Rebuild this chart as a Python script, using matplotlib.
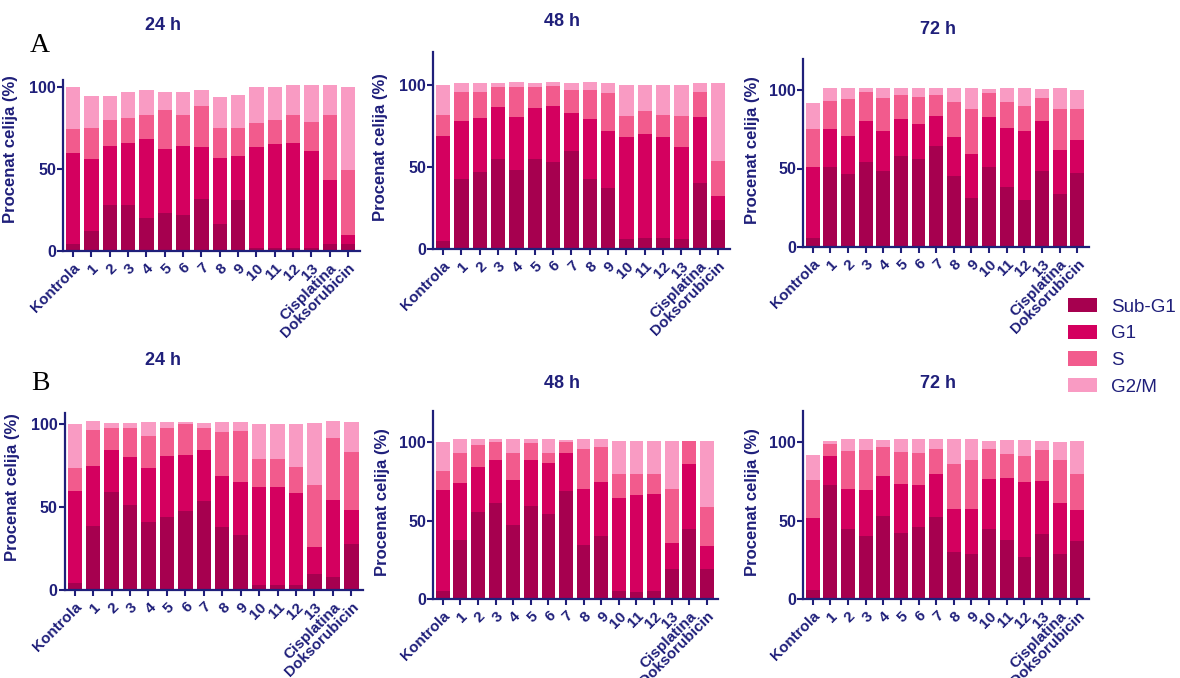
import numpy as np
import matplotlib.pyplot as plt
from matplotlib.patches import Patch

plt.rcParams['font.family'] = ['Liberation Sans', 'DejaVu Sans']

categories = ['Kontrola', '1', '2', '3', '4', '5', '6', '7', '8', '9', '10',
              '11', '12', '13', 'Cisplatina', 'Doksorubicin']
phases = ['Sub-G1', 'G1', 'S', 'G2/M']
colors = ['#a6004f', '#d4005f', '#f25b8d', '#f99bc3']
navy = '#1f1f7a'

# A, 24 h  (% of cells per phase)
a24_subg1 = [4, 12, 28, 28, 20, 23, 22, 31.5, 16.5, 31, 2, 2, 2, 2, 4, 4]
a24_g1 = [55.5, 44, 36, 38, 48, 39, 42, 31.5, 40, 27, 61, 63, 64, 59, 39.5, 6]
a24_s = [14.5, 19, 16, 15, 15, 24, 18.5, 25.5, 18.5, 17, 15, 15, 17, 17.5, 39.5, 39]
a24_g2m = [26, 19.5, 14.5, 16, 15, 11, 14.5, 9.5, 19, 20, 22, 20, 18, 22.5, 18, 51]

# A, 48 h
a48_subg1 = [5, 42.5, 47, 55, 48, 55, 53, 60, 42.5, 37.5, 6, 6.5, 6.5, 6, 40.5, 17.5]
a48_g1 = [64, 35.5, 33, 31.5, 32.5, 31, 34, 23, 36.5, 34.5, 62, 63.5, 61.5, 56, 40, 15]
a48_s = [13, 17.5, 16, 12.5, 18, 12.5, 12.5, 14, 18, 23, 13, 14, 14, 19, 15, 21]
a48_g2m = [18, 6, 5.5, 2.5, 3.5, 3, 2.5, 4.5, 5, 6.5, 19, 16, 18, 19, 6, 47.5]

# A, 72 h
a72_subg1 = [6, 51, 46.5, 54, 48.5, 58, 56, 64.5, 45, 31.5, 51, 38, 30, 48.5, 34, 47]
a72_g1 = [45, 24, 24.5, 26, 25.5, 23.5, 22.5, 19, 25, 27.5, 31.5, 38, 44, 32, 27.5, 21]
a72_s = [24, 18, 23, 18.5, 21, 15, 17, 13, 22.5, 29, 15.5, 16.5, 16, 14.5, 26.5, 20]
a72_g2m = [16.5, 8.5, 7.5, 3, 6.5, 5, 6, 5, 9, 13.5, 2.5, 8.5, 11, 5.5, 13, 12]

# B, 24 h
b24_subg1 = [4.5, 38.5, 59, 51.5, 41, 44, 47.5, 54, 38, 33, 3, 3, 3, 9.5, 8, 28]
b24_g1 = [55, 36.5, 25.5, 29, 32.5, 37, 34, 30.5, 31, 32, 59, 59, 55.5, 16.5, 46.5, 20]
b24_s = [14, 21.5, 13.5, 17.5, 19.5, 17, 18.5, 13.5, 26.5, 31, 17, 17, 16, 37.5, 37.5, 35]
b24_g2m = [26.5, 5.5, 3, 3, 8.5, 3.5, 1.5, 3, 6, 5.5, 21, 21, 25.5, 37, 10, 18.5]

# B, 48 h
b48_subg1 = [5, 37.5, 55.5, 61.5, 47.5, 59.5, 54.5, 69, 34.5, 40, 5, 4.5, 5, 19, 44.5, 19]
b48_g1 = [64.5, 36.5, 29, 27, 28.5, 29, 32.5, 24.5, 36, 34.5, 59.5, 62, 62, 16.5, 41.5, 15]
b48_s = [12.5, 19.5, 14, 11.5, 17.5, 11, 6, 6.5, 25, 22.5, 15.5, 13.5, 13, 34.5, 15, 24.5]
b48_g2m = [18.5, 8.5, 3.5, 2, 8.5, 2.5, 9, 1.5, 6.5, 5, 21, 21, 21, 31, 0, 42.5]

# B, 72 h
b72_subg1 = [5.5, 72.5, 45, 40.5, 53, 42, 46, 52.5, 30, 29, 44.5, 37.5, 27, 41.5, 29, 37]
b72_g1 = [46.5, 18.5, 25.5, 29, 25.5, 31.5, 26.5, 27, 27.5, 28.5, 32, 39.5, 47.5, 34, 32, 20]
b72_s = [24, 8, 24, 25.5, 18.5, 20.5, 21, 16, 28.5, 31, 19, 15.5, 17, 19.5, 28, 23]
b72_g2m = [16, 2, 7.5, 7, 4.5, 8, 8.5, 6.5, 16, 13.5, 5.5, 9, 10, 6, 11, 21]

W, H = 1180, 678
fig = plt.figure(figsize=(W / 100, H / 100), dpi=100)


def px_axes(left, zero_y, width, height):
    return fig.add_axes([left / W, (H - zero_y) / H, width / W, height / H])


def draw_panel(ax, data, ytop):
    x = np.arange(len(categories))
    bottom = np.zeros(len(categories))
    for vals, c in zip(data, colors):
        vals = np.array(vals, dtype=float)
        ax.bar(x, vals, width=0.78, bottom=bottom, color=c, linewidth=0)
        bottom += vals
    ax.set_xlim(-0.55, 15.65)
    ax.set_ylim(0, ytop)
    ax.set_yticks([0, 50, 100])
    ax.set_xticks(x)
    ax.set_xticklabels(categories, rotation=45, ha='right',
                       rotation_mode='anchor', fontsize=11, fontweight='bold',
                       color=navy)
    for lab in ax.get_yticklabels():
        lab.set_fontweight('bold')
    ax.tick_params(axis='y', colors=navy, labelsize=11.5, width=1.5,
                   length=4, pad=1)
    ax.tick_params(axis='x', colors=navy, width=1.5, length=4, pad=3)
    for s in ['top', 'right']:
        ax.spines[s].set_visible(False)
    for s in ['left', 'bottom']:
        ax.spines[s].set_color(navy)
        ax.spines[s].set_linewidth(1.6)
    ax.set_ylabel('Procenat celija (%)', fontsize=12, fontweight='bold',
                  color=navy)
    ax.yaxis.set_label_coords(-0.15, 62 / ytop)


panels = [
    ((63, 251, 297, 170.9), [a24_subg1, a24_g1, a24_s, a24_g2m], 104),
    ((433, 249, 297, 196.8), [a48_subg1, a48_g1, a48_s, a48_g2m], 120),
    ((803, 247, 285.8, 188.4), [a72_subg1, a72_g1, a72_s, a72_g2m], 120),
    ((64.6, 590, 298.7, 177.3), [b24_subg1, b24_g1, b24_s, b24_g2m], 107),
    ((433, 599, 285.4, 188), [b48_subg1, b48_g1, b48_s, b48_g2m], 120),
    ((803, 599, 285.8, 188), [b72_subg1, b72_g1, b72_s, b72_g2m], 120),
]
for rect, data, ytop in panels:
    ax = px_axes(*rect)
    draw_panel(ax, data, ytop)

# panel titles
titles = [('24 h', 163, 25), ('48 h', 562, 22), ('72 h', 938, 30),
          ('24 h', 163, 360), ('48 h', 562, 383), ('72 h', 938, 383)]
for t, x, y in titles:
    fig.text(x / W, 1 - y / H, t, ha='center', va='center', fontsize=13,
             fontweight='bold', color=navy)

fig.text(40 / W, 1 - 45 / H, 'A', ha='center', va='center', fontsize=20,
         family=['Liberation Serif', 'DejaVu Serif'], color='black')
fig.text(40 / W, 1 - 383 / H, 'B', ha='center', va='center', fontsize=20,
         family=['Liberation Serif', 'DejaVu Serif'], color='black')

handles = [Patch(facecolor=c, edgecolor='none') for c in colors]
fig.legend(handles, phases, loc='upper left',
           bbox_to_anchor=(1068 / W, 1 - 298 / H), frameon=False,
           fontsize=13.5, handlelength=1.55, handleheight=0.8,
           handletextpad=0.75, labelspacing=0.48, labelcolor=navy,
           borderaxespad=0, borderpad=0)

fig.savefig('out.png', dpi=100)
